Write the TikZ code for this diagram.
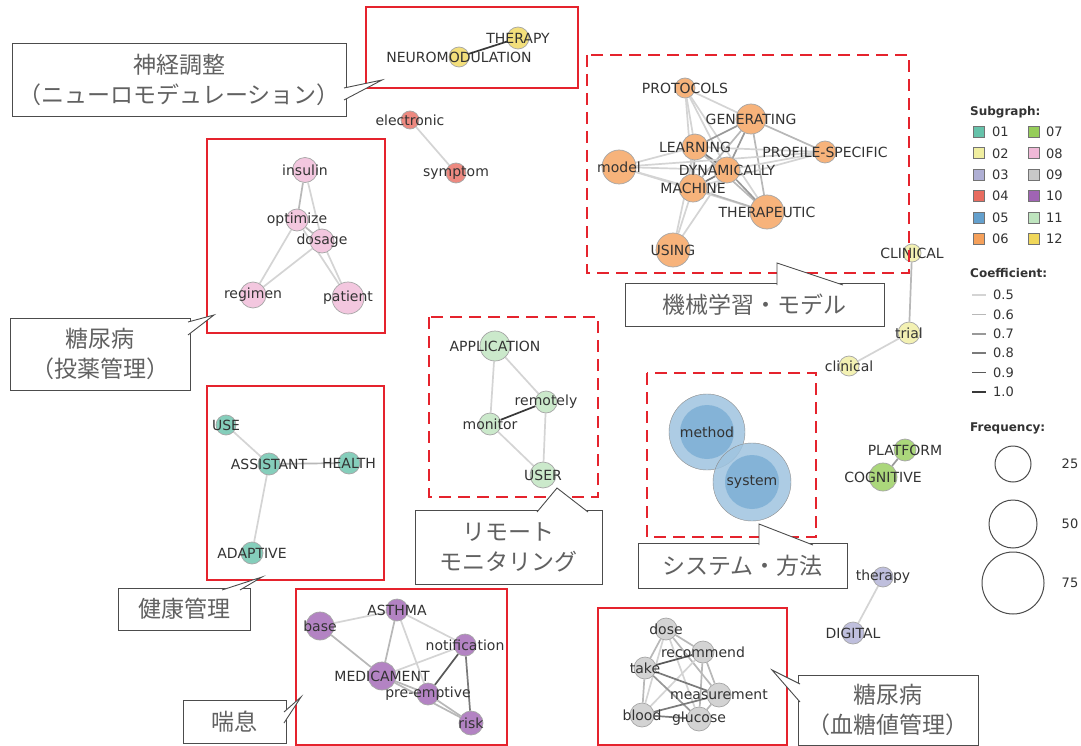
\documentclass[tikz,border=0pt]{standalone}
\usepackage{fontspec}
\setmainfont{DejaVu Sans}
\newfontfamily\jpfont{Noto Sans CJK JP}
\usetikzlibrary{backgrounds}
\definecolor{sg01}{RGB}{102,194,170}
\definecolor{sg02}{RGB}{240,238,160}
\definecolor{sg03}{RGB}{175,175,212}
\definecolor{sg04}{RGB}{232,108,96}
\definecolor{sg05}{RGB}{100,160,205}
\definecolor{sg06}{RGB}{245,160,90}
\definecolor{sg07}{RGB}{150,205,90}
\definecolor{sg08}{RGB}{240,185,215}
\definecolor{sg09}{RGB}{200,200,200}
\definecolor{sg10}{RGB}{160,100,180}
\definecolor{sg11}{RGB}{190,228,190}
\definecolor{sg12}{RGB}{240,215,90}
\definecolor{boxred}{RGB}{229,35,45}
\begin{document}
\begin{tikzpicture}[x=1pt,y=-1pt,
  kw/.style={circle,draw=black!35,line width=.7pt,fill=#1!80!white,inner sep=0pt},
  lbl/.style={font=\fontsize{14}{14}\selectfont,text=black!80,inner sep=0pt},
  c5/.style={line width=1.7pt,draw=black!17},
  c6/.style={line width=1.7pt,draw=black!28},
  c7/.style={line width=1.7pt,draw=black!40},
  c8/.style={line width=1.7pt,draw=black!52},
  c9/.style={line width=1.7pt,draw=black!65},
  c10/.style={line width=1.7pt,draw=black!78},
  grp/.style={draw=boxred,line width=2.6pt},
  grpdash/.style={grp,dash pattern=on 12pt off 7pt},
  callbox/.style={draw=black!70,line width=.9pt,fill=white,align=center,inner sep=0pt,
    font=\jpfont\fontsize{23}{30}\selectfont,text=black!62},
  wedge/.style={draw=black!70,line width=.9pt,fill=white},
  lgd/.style={font=\fontsize{13}{13}\selectfont,text=black!80,anchor=west,inner sep=0pt},
  lgdhead/.style={lgd,font=\bfseries\fontsize{12}{13}\selectfont}]
\useasboundingbox (0,0) rectangle (1081,746);

% keyword nodes
\node[kw=sg12,minimum size=20] (neuro) at (459,57) {};
\node[kw=sg12,minimum size=22] (therapyu) at (518,38) {};
\node[kw=sg04,minimum size=18] (electronic) at (410,120) {};
\node[kw=sg04,minimum size=20] (symptom) at (456,173) {};
\node[kw=sg08,minimum size=25] (insulin) at (305,170) {};
\node[kw=sg08,minimum size=22] (optimize) at (297,220) {};
\node[kw=sg08,minimum size=24] (dosage) at (322,241) {};
\node[kw=sg08,minimum size=26] (regimen) at (253,295) {};
\node[kw=sg08,minimum size=32] (patient) at (348,298) {};
\node[kw=sg06,minimum size=20] (protocols) at (685,88) {};
\node[kw=sg06,minimum size=30] (generating) at (751,119) {};
\node[kw=sg06,minimum size=26] (learning) at (695,147) {};
\node[kw=sg06,minimum size=22] (profile) at (825,152) {};
\node[kw=sg06,minimum size=34] (model) at (619,167) {};
\node[kw=sg06,minimum size=26] (dynamically) at (727,170) {};
\node[kw=sg06,minimum size=28] (machine) at (693,188) {};
\node[kw=sg06,minimum size=34] (therapeutic) at (767,212) {};
\node[kw=sg06,minimum size=34] (using) at (673,250) {};
\node[kw=sg02,minimum size=18] (clinicalu) at (912,253) {};
\node[kw=sg02,minimum size=22] (trial) at (909,333) {};
\node[kw=sg02,minimum size=20] (clinical) at (849,366) {};
\node[kw=sg11,minimum size=30] (application) at (495,346) {};
\node[kw=sg11,minimum size=22] (remotely) at (546,402) {};
\node[kw=sg11,minimum size=22] (monitor) at (490,424) {};
\node[kw=sg11,minimum size=26] (user) at (543,475) {};
\node[circle,draw=black!45,fill=sg05!62!white,fill opacity=.85,minimum size=76,inner sep=0pt] (method) at (707,432) {};
\fill[sg05,fill opacity=.55] (method) circle (27);
\node[circle,draw=black!45,fill=sg05!62!white,fill opacity=.85,minimum size=78,inner sep=0pt] (system) at (752,482) {};
\fill[sg05,fill opacity=.55] (system) circle (27);
\node[kw=sg07,minimum size=22] (platform) at (905,450) {};
\node[kw=sg07,minimum size=28] (cognitive) at (883,477) {};
\node[kw=sg03,minimum size=20] (therapyl) at (883,577) {};
\node[kw=sg03,minimum size=22] (digital) at (853,633) {};
\node[kw=sg01,minimum size=20] (use) at (226,425) {};
\node[kw=sg01,minimum size=22] (assistant) at (269,464) {};
\node[kw=sg01,minimum size=22] (health) at (349,463) {};
\node[kw=sg01,minimum size=22] (adaptive) at (252,553) {};
\node[kw=sg10,minimum size=22] (asthma) at (397,610) {};
\node[kw=sg10,minimum size=28] (base) at (320,626) {};
\node[kw=sg10,minimum size=22] (notification) at (465,645) {};
\node[kw=sg10,minimum size=28] (medicament) at (382,676) {};
\node[kw=sg10,minimum size=22] (preemptive) at (428,694) {};
\node[kw=sg10,minimum size=24] (risk) at (471,723) {};
\node[kw=sg09,minimum size=22] (dose) at (666,629) {};
\node[kw=sg09,minimum size=22] (recommend) at (703,652) {};
\node[kw=sg09,minimum size=22] (take) at (645,668) {};
\node[kw=sg09,minimum size=24] (measurement) at (719,695) {};
\node[kw=sg09,minimum size=24] (blood) at (642,715) {};
\node[kw=sg09,minimum size=24] (glucose) at (699,719) {};

\foreach \n/\t in {neuro/NEUROMODULATION,therapyu/THERAPY,electronic/electronic,symptom/symptom,
    insulin/insulin,optimize/optimize,dosage/dosage,regimen/regimen,patient/patient,
    protocols/PROTOCOLS,generating/GENERATING,learning/LEARNING,profile/PROFILE-SPECIFIC,
    model/model,dynamically/DYNAMICALLY,machine/MACHINE,therapeutic/THERAPEUTIC,using/USING,
    clinicalu/CLINICAL,trial/trial,clinical/clinical,application/APPLICATION,remotely/remotely,
    monitor/monitor,user/USER,method/method,system/system,platform/PLATFORM,cognitive/COGNITIVE,
    therapyl/therapy,digital/DIGITAL,use/USE,assistant/ASSISTANT,health/HEALTH,adaptive/ADAPTIVE,
    asthma/ASTHMA,base/base,notification/notification,medicament/MEDICAMENT,preemptive/pre-emptive,
    risk/risk,dose/dose,recommend/recommend,take/take,measurement/measurement,blood/blood,glucose/glucose}
  \node[lbl] (\n-l) at (\n) {\t};

\begin{scope}[on background layer]
  \fill[white] (0,0) rectangle (1081,746);
  \foreach \a/\b/\w in {neuro/therapyu/c10,electronic/symptom/c5,
      insulin/optimize/c6,insulin/dosage/c5,optimize/dosage/c6,optimize/regimen/c5,
      dosage/regimen/c5,optimize/patient/c5,dosage/patient/c5,
      protocols/generating/c5,protocols/learning/c5,protocols/dynamically/c5,protocols/machine/c5,
      protocols/therapeutic/c5,generating/learning/c7,generating/dynamically/c7,generating/machine/c6,
      generating/profile/c6,generating/therapeutic/c6,learning/profile/c5,learning/dynamically/c8,
      learning/machine/c7,learning/model/c5,learning/therapeutic/c6,model/dynamically/c5,
      model/machine/c5,model/therapeutic/c5,model/profile/c5,dynamically/machine/c8,
      dynamically/profile/c5,dynamically/therapeutic/c7,machine/therapeutic/c6,machine/using/c5,
      machine/profile/c5,using/dynamically/c5,using/learning/c5,
      clinicalu/trial/c6,trial/clinical/c5,
      application/monitor/c5,application/remotely/c5,monitor/remotely/c10,monitor/user/c5,remotely/user/c5,
      platform/cognitive/c7,therapyl/digital/c5,
      use/assistant/c5,assistant/health/c6,assistant/adaptive/c5,
      base/asthma/c5,base/medicament/c6,asthma/medicament/c6,asthma/preemptive/c5,asthma/notification/c5,
      medicament/notification/c5,medicament/preemptive/c6,medicament/risk/c6,notification/preemptive/c9,
      notification/risk/c8,preemptive/risk/c6,
      dose/recommend/c6,dose/take/c6,dose/measurement/c6,dose/blood/c5,dose/glucose/c5,
      recommend/take/c9,recommend/measurement/c6,recommend/blood/c5,recommend/glucose/c6,
      take/measurement/c8,take/blood/c6,take/glucose/c7,measurement/blood/c8,measurement/glucose/c6,
      blood/glucose/c8}
    \draw[\w] (\a) -- (\b);
\end{scope}

% groups
\draw[grp] (366,7) rectangle (578,88);
\draw[grp] (207,139) rectangle (385,333);
\draw[grp] (207,386) rectangle (384,580);
\draw[grp] (296,589) rectangle (507,745);
\draw[grp] (598,608) rectangle (787,745);
\draw[grpdash] (587,55) rectangle (909,273);
\draw[grpdash] (429,317) rectangle (598,497);
\draw[grpdash] (647,373) rectangle (816,537);

% callouts
\node[callbox,minimum width=334,minimum height=73] (cneuro) at (179,80) {神経調整\\（ニューロモデュレーション）};
\filldraw[wedge] (344,88) -- (382,80) -- (344,100);
\node[callbox,minimum width=180,minimum height=72] (cdrug) at (100,354) {糖尿病\\（投薬管理）};
\filldraw[wedge] (188,322) -- (214,315) -- (188,335);
\node[callbox,minimum width=259,minimum height=43] (cml) at (754.5,304.5) {機械学習・モデル};
\filldraw[wedge] (777,285) -- (777,263) -- (843,285);
\node[callbox,minimum width=187,minimum height=74] (cremote) at (508.5,547) {リモート\\モニタリング};
\filldraw[wedge] (537,512) -- (557,488) -- (588,512);
\node[callbox,minimum width=209,minimum height=45] (csys) at (742.5,565.5) {システム・方法};
\filldraw[wedge] (759,545) -- (759,524) -- (813,545);
\node[callbox,minimum width=132,minimum height=42] (chealth) at (184,609) {健康管理};
\filldraw[wedge] (222,590) -- (262,577) -- (240,590);
\node[callbox,minimum width=103,minimum height=43] (casthma) at (234.5,721.5) {喘息};
\filldraw[wedge] (284,712) -- (301,697) -- (284,723);
\node[callbox,minimum width=180,minimum height=70] (cblood) at (888,710) {糖尿病\\（血糖値管理）};
\filldraw[wedge] (800,684) -- (772,670) -- (800,702);

% legend
\node[lgdhead] (lgsub) at (970,112) {Subgraph:};
\foreach \a/\b [count=\i from 0] in {01/07,02/08,03/09,04/10,05/11,06/12}{
  \draw[black!55,line width=.8pt,fill=sg\a] (973,{126.5+21.4*\i}) rectangle ++(11,11);
  \draw[black!55,line width=.8pt,fill=sg\b] (1028,{126.5+21.4*\i}) rectangle ++(11,11);
  \node[lgd] (lg\a) at (992,{132+21.4*\i}) {\a};
  \node[lgd] (lg\b) at (1046,{132+21.4*\i}) {\b};
}
\node[lgdhead] (lgcoef) at (970,273) {Coefficient:};
\foreach \v/\w [count=\i from 0] in {0.5/c5,0.6/c6,0.7/c7,0.8/c8,0.9/c9,1.0/c10}{
  \draw[\w] (972,{295+19.4*\i}) -- (986,{295+19.4*\i});
  \node[lgd] (lgc\i) at (993,{295+19.4*\i}) {\v};
}
\node[lgdhead] (lgfreq) at (970,428) {Frequency:};
\foreach \f/\y/\r in {25/464/18,50/524/24,75/583/31}{
  \draw[black!70,line width=1pt] (1013,\y) circle (\r);
  \node[lgd,anchor=center] (lgf\f) at (1070,\y) {\f};
}
\end{tikzpicture}
\end{document}
